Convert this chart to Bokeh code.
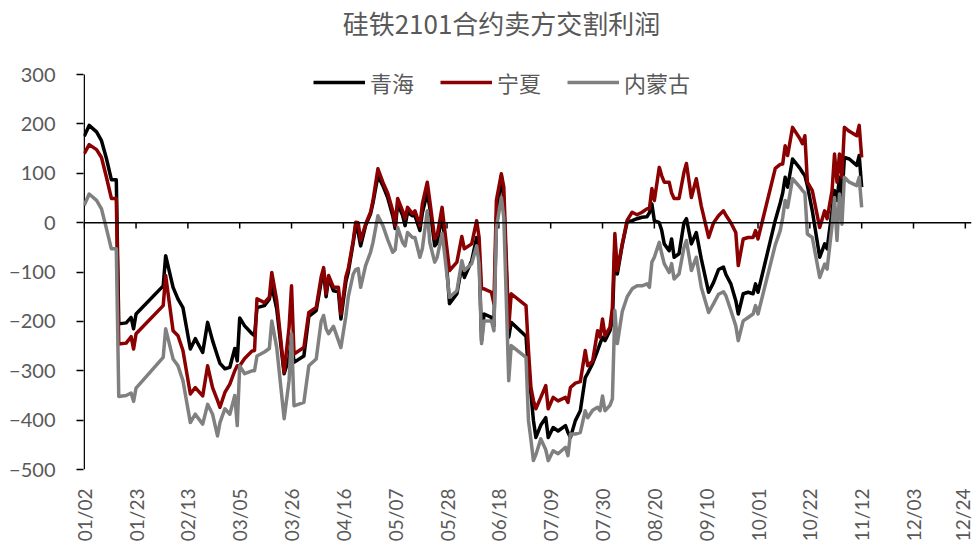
import math
import pandas as pd
from bokeh.plotting import figure
from bokeh.models import Range1d, FixedTicker, Span, Legend, LegendItem, Label
from bokeh.embed import file_html
from bokeh.resources import INLINE

# 硅铁2101合约卖方交割利润（元/吨），2020年
dates = [
    "2020-01-02", "2020-01-04", "2020-01-07", "2020-01-09", "2020-01-11", "2020-01-13",
    "2020-01-15", "2020-01-16", "2020-01-19", "2020-01-21", "2020-01-22", "2020-01-23",
    "2020-02-03", "2020-02-04", "2020-02-07", "2020-02-09", "2020-02-11", "2020-02-14",
    "2020-02-16", "2020-02-19", "2020-02-21", "2020-02-23", "2020-02-25", "2020-02-26",
    "2020-02-28", "2020-03-01", "2020-03-03", "2020-03-04", "2020-03-05", "2020-03-07",
    "2020-03-10", "2020-03-11", "2020-03-12", "2020-03-15", "2020-03-17", "2020-03-18",
    "2020-03-20", "2020-03-23", "2020-03-25", "2020-03-26", "2020-03-27", "2020-03-31",
    "2020-04-02", "2020-04-05", "2020-04-07", "2020-04-08", "2020-04-09", "2020-04-10",
    "2020-04-12", "2020-04-14", "2020-04-15", "2020-04-17", "2020-04-18", "2020-04-20",
    "2020-04-21", "2020-04-22", "2020-04-23", "2020-04-25", "2020-04-27", "2020-04-28",
    "2020-04-30", "2020-05-02", "2020-05-04", "2020-05-06", "2020-05-07", "2020-05-08",
    "2020-05-10", "2020-05-11", "2020-05-12", "2020-05-14", "2020-05-15", "2020-05-17",
    "2020-05-18", "2020-05-20", "2020-05-21", "2020-05-23", "2020-05-24", "2020-05-26",
    "2020-05-27", "2020-05-29", "2020-06-01", "2020-06-03", "2020-06-04", "2020-06-07",
    "2020-06-09", "2020-06-10", "2020-06-11", "2020-06-12", "2020-06-15", "2020-06-16",
    "2020-06-17", "2020-06-19", "2020-06-20", "2020-06-22", "2020-06-23", "2020-06-29",
    "2020-06-30", "2020-07-01", "2020-07-02", "2020-07-03", "2020-07-05", "2020-07-07",
    "2020-07-08", "2020-07-10", "2020-07-12", "2020-07-15", "2020-07-16", "2020-07-17",
    "2020-07-19", "2020-07-21", "2020-07-23", "2020-07-24", "2020-07-26", "2020-07-28",
    "2020-07-29", "2020-07-30", "2020-07-31", "2020-08-02", "2020-08-03", "2020-08-04",
    "2020-08-05", "2020-08-07", "2020-08-09", "2020-08-11", "2020-08-13", "2020-08-15",
    "2020-08-17", "2020-08-18", "2020-08-19", "2020-08-20", "2020-08-22", "2020-08-23",
    "2020-08-24", "2020-08-26", "2020-08-27", "2020-08-28", "2020-08-30", "2020-09-01",
    "2020-09-02", "2020-09-04", "2020-09-06", "2020-09-08", "2020-09-11", "2020-09-13",
    "2020-09-15", "2020-09-17", "2020-09-18", "2020-09-20", "2020-09-22", "2020-09-23",
    "2020-09-25", "2020-09-27", "2020-09-29", "2020-09-30", "2020-10-01", "2020-10-08",
    "2020-10-10", "2020-10-11", "2020-10-12", "2020-10-13", "2020-10-15", "2020-10-18",
    "2020-10-19", "2020-10-20", "2020-10-21", "2020-10-23", "2020-10-26", "2020-10-28",
    "2020-10-29", "2020-10-31", "2020-11-01", "2020-11-02", "2020-11-03", "2020-11-04",
    "2020-11-05", "2020-11-07", "2020-11-10", "2020-11-11", "2020-11-12",
]

qinghai = [
    175, 197, 184, 166, 130, 87,
    87, -205, -203, -192, -215, -185,
    -128, -67, -131, -155, -172, -256,
    -235, -263, -202, -239, -270, -285,
    -296, -293, -255, -280, -193, -209,
    -225, -229, -172, -168, -155, -128,
    -175, -306, -273, -232, -283, -270,
    -190, -178, -120, -97, -150, -112,
    -138, -140, -195, -120, -100, -40,
    -6, -20, -47, -6, 18, 40,
    95, 75, 50, 14, -12, 38,
    15, -6, 21, 14, 14, -16,
    20, 61, 31, -47, -41, 14,
    -30, -164, -144, -87, -111, -77,
    -30, -70, -239, -185, -192, -209,
    11, 95, 45, -232, -202, -230,
    -306, -347, -400, -435, -410, -395,
    -435, -415, -422, -411, -425, -435,
    -401, -381, -314, -305, -285, -259,
    -245, -232, -239, -219, -200, -47,
    -104, -45, 2, 4, 8, 11,
    12, 20, 38, 4, 0, -16,
    -43, -57, -33, -70, -63, 0,
    8, -43, -20, -73, -141, -121,
    -95, -90, -105, -124, -158, -185,
    -144, -141, -144, -124, -141, 5,
    40, 60, 92, 72, 129, 110,
    102, 95, 75, 24, -70, -43,
    -53, 24, 65, 45, 92, 51,
    132, 129, 116, 136, 72,
]

ningxia = [
    140, 158, 148, 132, 92, 49,
    49, -246, -244, -231, -256, -225,
    -168, -107, -219, -229, -259, -347,
    -334, -351, -290, -334, -360, -374,
    -344, -327, -300, -290, -290, -275,
    -260, -259, -154, -162, -151, -101,
    -158, -303, -212, -128, -266, -253,
    -182, -172, -110, -91, -144, -107,
    -131, -131, -185, -110, -93, -36,
    1, 0, -36, -3, 21, 45,
    109, 82, 59, 24, -6, 49,
    24, 8, 31, 18, 24, -6,
    38, 82, 45, -32, -26, 31,
    -12, -97, -80, -28, -53, -43,
    4, -30, -134, -134, -141, -164,
    45, 99, 72, -212, -144, -168,
    -259, -334, -360, -377, -354, -330,
    -377, -354, -361, -354, -364, -334,
    -325, -322, -259, -290, -280, -219,
    -232, -195, -229, -212, -172, -22,
    -97, -43, 5, 21, 16, 21,
    28, 28, 69, 45, 112, 95,
    82, 82, 60, 49, 49, 102,
    120, 51, 89, 34, -30, 0,
    14, 24, 15, 0, -20, -87,
    -33, -30, -30, -16, -33, 110,
    118, 119, 156, 136, 193, 170,
    160, 176, 82, 65, -10, 24,
    8, 65, 139, 82, 139, 92,
    193, 185, 176, 197, 132,
]

neimenggu = [
    35, 58, 45, 28, -12, -53,
    -53, -352, -350, -345, -362, -335,
    -273, -215, -276, -290, -320, -405,
    -388, -408, -368, -388, -432, -405,
    -377, -388, -350, -411, -290, -306,
    -300, -300, -270, -262, -255, -199,
    -253, -397, -320, -225, -371, -364,
    -290, -276, -200, -188, -215, -225,
    -210, -239, -253, -190, -150, -104,
    -95, -93, -131, -87, -60, -40,
    14, -6, -35, -60, -55, -10,
    -40, -47, -20, -30, -30, -70,
    -53, 24, -40, -80, -70, -22,
    -63, -151, -138, -77, -97, -83,
    -47, -83, -245, -199, -199, -219,
    -10, 51, 11, -320, -249, -273,
    -401, -440, -482, -470, -438, -460,
    -482, -462, -468, -455, -472, -428,
    -428, -425, -381, -395, -380, -374,
    -381, -351, -381, -370, -357, -178,
    -245, -180, -150, -134, -128, -128,
    -124, -131, -80, -70, -40, -63,
    -83, -101, -83, -114, -104, -50,
    -36, -97, -70, -131, -182, -164,
    -145, -140, -148, -178, -209, -239,
    -199, -192, -185, -168, -185, -45,
    -16, 10, 45, 31, 89, 72,
    65, 60, -23, -30, -111, -84,
    -94, -6, 51, -36, 58, -3,
    92, 82, 75, 92, 31,
]

series_names = ["青海", "宁夏", "内蒙古"]
series_colors = ["#000000", "#8B0000", "#808080"]
chart_title = "硅铁2101合约卖方交割利润"

tick_labels = [
    "01/02", "01/23", "02/13", "03/05", "03/26", "04/16", "05/07", "05/28", "06/18",
    "07/09", "07/30", "08/20", "09/10", "10/01", "10/22", "11/12", "12/03", "12/24",
]
y_ticks = [-500, -400, -300, -200, -100, 0, 100, 200, 300]
y_min, y_max = -500, 300

x = pd.to_datetime(dates)
tick_dates = pd.to_datetime(["2020/" + t for t in tick_labels], format="%Y/%m/%d")
tick_ms = [int(t.timestamp() * 1000) for t in tick_dates]

x_axis_pos = pd.Timestamp("2020-01-02")
x_start = x_axis_pos - pd.Timedelta(hours=7)
x_end = pd.Timestamp("2020-12-26 12:00")

# the plot area reaches the top of the canvas so the title and legend share it;
# the value axis itself is drawn from -500 to 300 only
p = figure(
    width=973, height=544, title=None,
    x_axis_type="datetime",
    x_range=Range1d(x_start, x_end),
    y_range=Range1d(y_min, 450),
    output_backend="svg", toolbar_location=None,
    min_border_left=83, min_border_right=2, min_border_bottom=75, min_border_top=0,
)
p.outline_line_color = None
p.xgrid.visible = False
p.ygrid.visible = False
p.background_fill_color = "white"
p.border_fill_color = "white"

# y axis: ticks and labels from the axis, its line drawn as a segment
yax = p.yaxis[0]
yax.ticker = FixedTicker(ticks=y_ticks)
yax.axis_line_color = None
yax.major_tick_line_color = "black"
yax.major_tick_line_width = 1.5
yax.major_tick_out = 7
yax.major_tick_in = 0
yax.minor_tick_line_color = None
yax.major_label_standoff = 21
yax.major_label_text_font = "Lato"
yax.major_label_text_font_size = "20px"
yax.major_label_text_color = "#595959"
p.segment(x0=[x_axis_pos], y0=[y_min], x1=[x_axis_pos], y1=[y_max],
          line_color="black", line_width=1.5)

# x axis: labels only, the category line sits on the zero line
xax = p.xaxis[0]
xax.ticker = FixedTicker(ticks=tick_ms)
xax.major_label_overrides = dict(zip(tick_ms, tick_labels))
xax.major_label_orientation = math.pi / 2
xax.axis_line_color = None
xax.major_tick_line_color = None
xax.minor_tick_line_color = None
xax.major_tick_out = 0
xax.major_tick_in = 0
xax.major_label_standoff = 19
xax.major_label_text_font = "Lato"
xax.major_label_text_font_size = "19px"
xax.major_label_text_color = "#595959"

p.add_layout(Span(location=0, dimension="width", line_color="black", line_width=1.5))
p.segment(x0=tick_dates, y0=0, x1=tick_dates, y1=-12, line_color="black", line_width=1.5)

renderers = []
for vals, color in zip([qinghai, ningxia, neimenggu], series_colors):
    r = p.line(x, vals, line_color=color, line_width=3.5, line_join="round")
    renderers.append(r)

legend = Legend(
    items=[LegendItem(label=n, renderers=[r]) for n, r in zip(series_names, renderers)],
    orientation="horizontal",
    location=(230, 371),
    glyph_width=52, glyph_height=30, label_height=30,
    label_standoff=5, spacing=26,
    padding=0, margin=0,
    border_line_color=None, background_fill_alpha=0,
    label_text_font="Noto Sans CJK SC", label_text_font_size="22px",
    label_text_color="#595959",
)
p.add_layout(legend)

# chart title at the top of the canvas (screen units from the plot area's bottom-left)
p.add_layout(Label(
    x=418, y=447, x_units="screen", y_units="screen",
    text=chart_title, text_align="center", text_baseline="middle",
    text_font="Noto Sans CJK SC", text_font_size="26px", text_color="#595959",
))

open("out.html", "w").write(file_html(p, INLINE))
